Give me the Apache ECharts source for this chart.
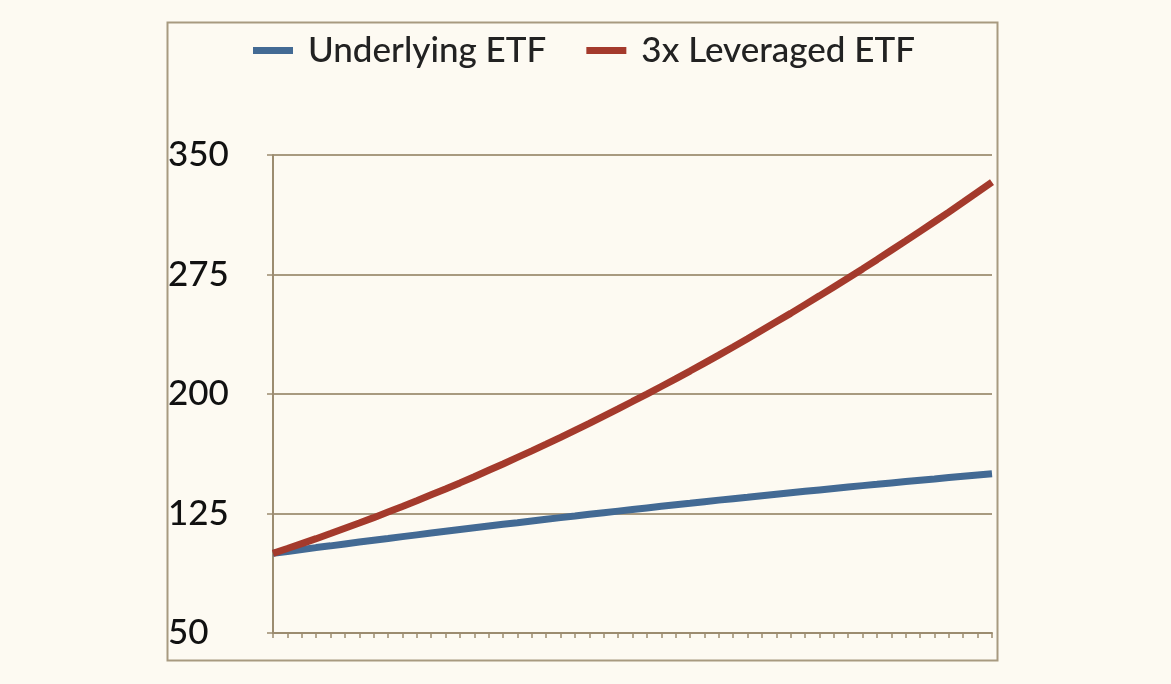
<!DOCTYPE html>
<html>
<head>
<meta charset="utf-8">
<script src="https://cdn.jsdelivr.net/npm/echarts@6/dist/echarts.min.js"></script>
<style>
html, body { margin: 0; padding: 0; background: #fdfaf2; }
#chart { width: 1171px; height: 684px; }
</style>
</head>
<body>
<div id="chart"></div>
<script>
// 51 points (days 0..50)
var days = [];
for (var i = 0; i <= 50; i++) days.push(String(i));

var underlying = [100, 101.2, 102.4, 103.6, 104.7, 105.9, 107.1, 108.2, 109.3, 110.5,
	111.6, 112.7, 113.8, 114.9, 116.0, 117.1, 118.2, 119.2, 120.3, 121.4,
	122.4, 123.4, 124.5, 125.5, 126.5, 127.5, 128.5, 129.5, 130.5, 131.4,
	132.4, 133.4, 134.3, 135.2, 136.2, 137.1, 138.0, 138.9, 139.8, 140.7,
	141.6, 142.5, 143.3, 144.2, 145.1, 145.9, 146.7, 147.6, 148.4, 149.2, 150];

var leveraged = [100, 103.0, 106.1, 109.2, 112.4, 115.7, 119.0, 122.4, 125.9, 129.4,
	133.0, 136.7, 140.4, 144.2, 148.1, 152.1, 156.1, 160.2, 164.3, 168.5,
	172.8, 177.2, 181.6, 186.1, 190.6, 195.3, 199.9, 204.7, 209.5, 214.4,
	219.4, 224.4, 229.5, 234.7, 240.0, 245.3, 250.6, 256.1, 261.6, 267.2,
	272.8, 278.5, 284.3, 290.2, 296.1, 302.1, 308.1, 314.2, 320.4, 326.7, 333.0];

var chart = echarts.init(document.getElementById('chart'));
var axisColor = '#9c8c70';
var option = {
	backgroundColor: '#fdfaf2',
	textStyle: { fontFamily: 'Lato' },
	graphic: [{
		type: 'rect',
		shape: { x: 167.5, y: 22.5, width: 830, height: 638 },
		style: { fill: 'none', stroke: '#a89a80', lineWidth: 2 },
		silent: true
	}],
	legend: {
		top: 28,
		left: 248,
		itemGap: 40,
		itemWidth: 40,
		itemHeight: 7,
		icon: 'rect',
		textStyle: { color: '#222', fontSize: 35, fontWeight: 500, fontFamily: 'Lato', padding: [0, 0, 0, 10] },
		data: ['Underlying ETF', '3x Leveraged ETF']
	},
	grid: { left: 273, right: 179, top: 155, bottom: 51 },
	xAxis: {
		type: 'category',
		data: days,
		boundaryGap: false,
		axisLine: { lineStyle: { color: axisColor, width: 2 } },
		axisTick: { show: true, interval: 0, length: 5, lineStyle: { color: axisColor, width: 1.5 } },
		axisLabel: { show: false },
		splitLine: { show: false }
	},
	yAxis: {
		type: 'value',
		min: 50,
		max: 350,
		interval: 75,
		axisLine: { show: true, lineStyle: { color: axisColor, width: 2 } },
		axisTick: { show: true, length: 6, lineStyle: { color: axisColor, width: 1.5 } },
		axisLabel: { color: '#111', fontSize: 35, fontWeight: 500, fontFamily: 'Lato', margin: 105, align: 'left' },
		splitLine: { lineStyle: { color: '#a89a80', width: 2 } }
	},
	series: [{
		name: 'Underlying ETF',
		type: 'line',
		data: underlying,
		showSymbol: false,
		color: '#436a94',
		lineStyle: { width: 7 }
	}, {
		name: '3x Leveraged ETF',
		type: 'line',
		data: leveraged,
		showSymbol: false,
		color: '#a43a2c',
		lineStyle: { width: 7 }
	}]
};
chart.setOption(option);
</script>
</body>
</html>
